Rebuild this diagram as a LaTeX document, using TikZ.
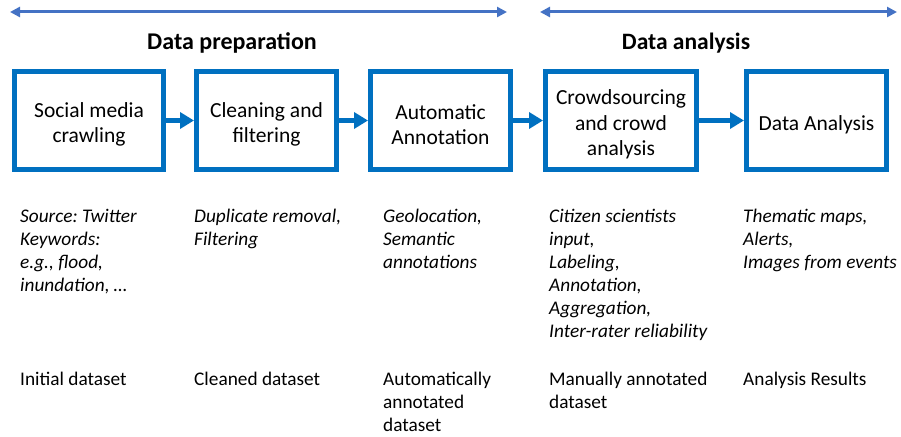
\documentclass[tikz,border=0pt]{standalone}
\usepackage{fontspec}
\setmainfont{Carlito}
\usetikzlibrary{arrows.meta}
\definecolor{boxblue}{HTML}{0070C0}
\definecolor{lineblue}{HTML}{4472C4}
\frenchspacing
\begin{document}
\begin{tikzpicture}[x=1pt,y=-1pt,
  stage/.style={draw=boxblue, line width=5pt, minimum height=98pt, inner sep=0pt},
  boxtext/.style={align=center, inner sep=0pt, yshift=-4pt, font=\fontsize{21.5}{25.5}\selectfont},
  flow/.style={draw=boxblue, line width=5pt, -{Triangle[length=14pt,width=16pt]}},
  span/.style={draw=lineblue, line width=3pt, {Triangle[length=10pt,width=10pt]}-{Triangle[length=10pt,width=10pt]}},
  desc/.style={anchor=north west, align=left, inner sep=0pt, font=\fontsize{19.3}{23}\selectfont\itshape},
  result/.style={anchor=north west, align=left, inner sep=0pt, font=\fontsize{19.3}{23}\selectfont},
  phase/.style={font=\fontsize{24}{28}\selectfont\bfseries}]
\useasboundingbox (0,0) rectangle (901,436);
% phase spans
\coordinate (p1a) at (10,12);
\coordinate (p1b) at (507,12);
\coordinate (p2a) at (540,12);
\coordinate (p2b) at (897,12);
\draw[span] (p1a) -- (p1b);
\draw[span] (p2a) -- (p2b);
\node[phase] (prep) at (232,43) {Data preparation};
\node[phase, font=\fontsize{23.5}{28}\selectfont\bfseries] (anal) at (686,43) {Data analysis};
% stages
\node[stage, minimum width=149pt, label={[boxtext]center:{Social media\\crawling}}] (b1) at (89,120.5) {};
\node[stage, minimum width=140pt, label={[boxtext]center:{Cleaning and\\filtering}}] (b2) at (266.5,120.5) {};
\node[stage, minimum width=140pt, label={[boxtext]center:{Automatic\\Annotation}}] (b3) at (440.5,120.5) {};
\node[stage, minimum width=151pt, label={[boxtext]center:{Crowdsourcing\\and crowd\\analysis}}] (b4) at (621,120.5) {};
\node[stage, minimum width=140pt, label={[boxtext]center:{Data Analysis}}] (b5) at (816.5,120.5) {};
\draw[flow] (b1) -- (b2);
\draw[flow] (b2) -- (b3);
\draw[flow] (b3) -- (b4);
\draw[flow] (b4) -- (b5);
% descriptions
\node[desc] (d1) at (20,205.9) {\strut Source: Twitter\\Keywords:\\e.g., flood,\\inundation, \dots};
\node[desc] (d2) at (194,205.9) {\strut Duplicate removal,\\Filtering};
\node[desc] (d3) at (383,205.9) {\strut Geolocation,\\Semantic\\annotations};
\node[desc] (d4) at (549,205.9) {\strut Citizen scientists\\input,\\Labeling,\\Annotation,\\Aggregation,\\Inter-rater reliability};
\node[desc] (d5) at (743,205.9) {\strut Thematic maps,\\Alerts,\\Images from events};
% results
\node[result] (r1) at (20,369.6) {\strut Initial dataset};
\node[result] (r2) at (194,369.6) {\strut Cleaned dataset};
\node[result] (r3) at (383,369.6) {\strut Automatically\\annotated\\dataset};
\node[result] (r4) at (549,369.6) {\strut Manually annotated\\dataset};
\node[result] (r5) at (743,369.6) {\strut Analysis Results};
\end{tikzpicture}
\end{document}
